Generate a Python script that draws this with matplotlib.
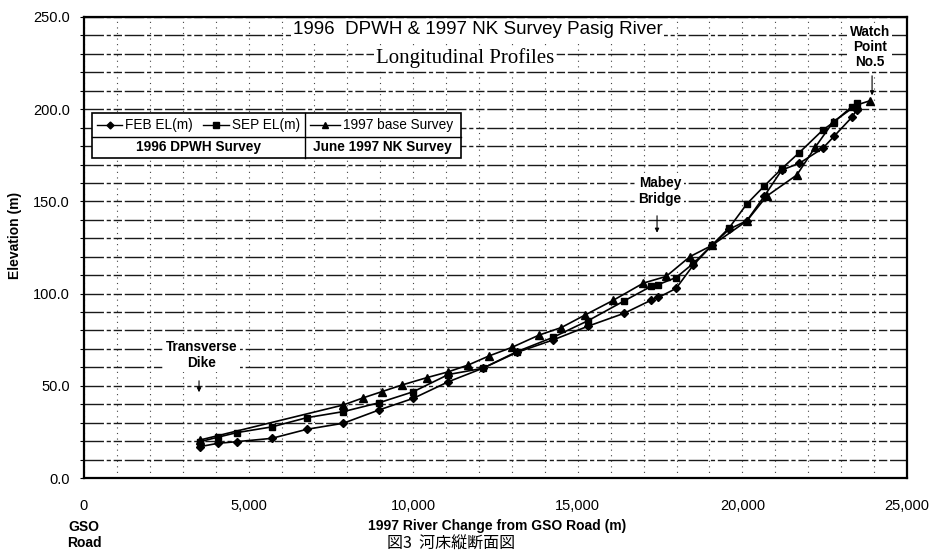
import matplotlib
matplotlib.use('Agg')
import matplotlib.pyplot as plt
from matplotlib.patches import Rectangle
from matplotlib.lines import Line2D
import numpy as np

# 1996 DPWH survey stations (FEB / SEP share chainage)
dpwh_x = [3524, 4062, 4639, 5703, 6766, 7877, 8962, 10004, 11068, 12113,
          13146, 14239, 15321, 16405, 17235, 17447, 17985, 18511, 19070, 19604,
          20133, 20667, 21196, 21731, 22442, 22794, 23323, 23475]
feb_el = [17.0, 18.8, 19.7, 21.5, 26.4, 29.7, 36.9, 43.2, 52.2, 59.5,
          68.1, 74.8, 82.4, 89.3, 96.5, 97.9, 102.8, 115.5, 126.1, 135.0,
          139.5, 152.9, 167.0, 170.7, 178.8, 185.5, 195.6, 199.6]
sep_el = [19.7, 22.1, 24.6, 27.7, 32.7, 36.0, 40.8, 46.8, 56.1, 59.5,
          68.5, 76.2, 85.4, 96.0, 104.0, 104.9, 108.7, 116.4, 126.1, 135.8,
          148.6, 158.4, 167.8, 176.5, 188.7, 193.2, 201.4, 203.5]

# June 1997 NK survey
nk_x = [3524, 7877, 8485, 9044, 9652, 10411, 11068, 11675, 12304, 12993,
        13823, 14501, 15221, 16080, 16992, 17681, 18410, 19070, 20133, 20741,
        21652, 22208, 22764, 23475, 23879]
nk_el = [20.6, 39.6, 43.5, 46.8, 50.4, 54.4, 57.6, 61.3, 66.2, 70.8,
         77.5, 81.6, 88.4, 96.4, 105.7, 109.3, 120.1, 126.1, 139.4, 152.9,
         164.3, 179.3, 193.2, 202.3, 204.6]

x_ticks = [0, 5000, 10000, 15000, 20000, 25000]
x_ticklabels = ['0', '5,000', '10,000', '15,000', '20,000', '25,000']
y_ticks = [0, 50, 100, 150, 200, 250]

W, H = 943, 553
fig = plt.figure(figsize=(W / 100, H / 100), dpi=100)
fig.patch.set_facecolor('white')


def fx(px):
    return px / W


def fy(py):
    return 1 - py / H


ax = fig.add_axes([fx(84), fy(478), fx(907) - fx(84), fy(17) - fy(478)])
ax.set_xlim(0, 25000)
ax.set_ylim(0, 250)

# grid
ax.set_yticks(y_ticks)
ax.set_yticks(np.arange(0, 251, 10), minor=True)
ax.set_xticks(x_ticks)
ax.set_xticks(np.arange(0, 25001, 1000), minor=True)
ax.grid(which='both', axis='y', color='#1a1a1a', lw=1.0,
        linestyle=(0, (14, 2, 3, 2, 6, 2)))
ax.grid(which='both', axis='x', color='#444444', lw=0.8,
        linestyle=(0, (1, 4)))
ax.set_axisbelow(True)

ax.set_xticklabels(x_ticklabels)
ax.set_yticklabels(['%.1f' % v for v in y_ticks])
ax.tick_params(axis='x', which='both', length=0, pad=15, labelsize=10.5)
ax.tick_params(axis='y', which='both', direction='out', length=3, width=0.8,
               pad=7, labelsize=10.5)
for lbl in ax.get_xticklabels() + ax.get_yticklabels():
    lbl.set_family('Liberation Sans')
for s in ax.spines.values():
    s.set_linewidth(1.6)

# series
ax.plot(dpwh_x, feb_el, color='black', lw=1.2, marker='D', ms=3.8, zorder=4)
ax.plot(dpwh_x, sep_el, color='black', lw=1.2, marker='s', ms=4.8, zorder=4)
ax.plot(nk_x, nk_el, color='black', lw=1.2, marker='^', ms=5.2, zorder=4)

bold = dict(family='Liberation Sans', fontweight='bold', color='black')
wbox = dict(facecolor='white', edgecolor='none', pad=1.5)

# title texts
ax.text(11954, 243, '1996  DPWH & 1997 NK Survey Pasig River', ha='center',
        va='center', fontsize=13.5, family='Liberation Sans', bbox=wbox,
        zorder=5)
ax.text(11575, 227.8, 'Longitudinal Profiles', ha='center', va='center',
        fontsize=15, family='Liberation Serif', bbox=wbox, zorder=5)

# annotations
ax.text(23879, 233.7, 'Watch\nPoint\nNo.5', ha='center', va='center',
        fontsize=9.8, linespacing=1.12, bbox=wbox, zorder=5, **bold)
ax.annotate('', xy=(23939, 206.0), xytext=(23939, 219.6),
            arrowprops=dict(arrowstyle='-|>', lw=0.8, color='black',
                            mutation_scale=6), zorder=5)
ax.text(17498, 155.6, 'Mabey\nBridge', ha='center', va='center',
        fontsize=9.8, linespacing=1.12, bbox=wbox, zorder=5, **bold)
ax.annotate('', xy=(17407, 131.5), xytext=(17407, 143.7),
            arrowprops=dict(arrowstyle='-|>', lw=0.8, color='black',
                            mutation_scale=6), zorder=5)
ax.text(3585, 66.7, 'Transverse\nDike', ha='center', va='center',
        fontsize=9.8, linespacing=1.12, bbox=wbox, zorder=5, **bold)
ax.annotate('', xy=(3494, 45.0), xytext=(3494, 54.2),
            arrowprops=dict(arrowstyle='-|>', lw=0.8, color='black',
                            mutation_scale=6), zorder=5)

# hand-made legend table
fig.add_artist(Rectangle((fx(92), fy(158)), fx(461) - fx(92), fy(113) - fy(158),
                         transform=fig.transFigure, facecolor='white',
                         edgecolor='black', lw=1.2, zorder=6))
fig.add_artist(Line2D([fx(305), fx(305)], [fy(113), fy(158)],
                      transform=fig.transFigure, color='black', lw=1.0, zorder=7))
fig.add_artist(Line2D([fx(92), fx(461)], [fy(137), fy(137)],
                      transform=fig.transFigure, color='black', lw=1.0, zorder=7))
legend_items = [(97, 122, 'D', 3.5, 125, 'FEB EL(m)'),
                (203, 229, 's', 4.5, 232, 'SEP EL(m)'),
                (310, 340, '^', 5.0, 343, '1997 base Survey')]
for x0, x1, mk, ms, tx, label in legend_items:
    fig.add_artist(Line2D([fx(x0), fx(x1)], [fy(125), fy(125)],
                          transform=fig.transFigure, color='black', lw=1.0,
                          zorder=7))
    fig.add_artist(Line2D([fx((x0 + x1) / 2)], [fy(125)], marker=mk, ms=ms,
                          color='black', transform=fig.transFigure, zorder=7))
    fig.text(fx(tx), fy(125), label, ha='left', va='center', fontsize=9.8,
             family='Liberation Sans', zorder=7)
fig.text(fx(198), fy(147.5), '1996 DPWH Survey', ha='center', va='center',
         fontsize=9.8, zorder=7, **bold)
fig.text(fx(382), fy(147.5), 'June 1997 NK Survey', ha='center', va='center',
         fontsize=9.8, zorder=7, **bold)

# axis labels and footer
fig.text(fx(497), fy(526), '1997 River Change from GSO Road (m)', ha='center',
         va='center', fontsize=10, **bold)
fig.text(fx(15), fy(235), 'Elevation (m)', ha='center', va='center',
         rotation=90, fontsize=10, **bold)
fig.text(fx(84), fy(535), 'GSO\nRoad', ha='center', va='center',
         fontsize=10, linespacing=1.1, **bold)
fig.text(fx(387), fy(552), '図3  河床縦断面図', ha='left', va='bottom',
         fontsize=11.5, family=['Noto Sans CJK JP', 'DejaVu Sans'])

fig.savefig('out.png', dpi=100)
